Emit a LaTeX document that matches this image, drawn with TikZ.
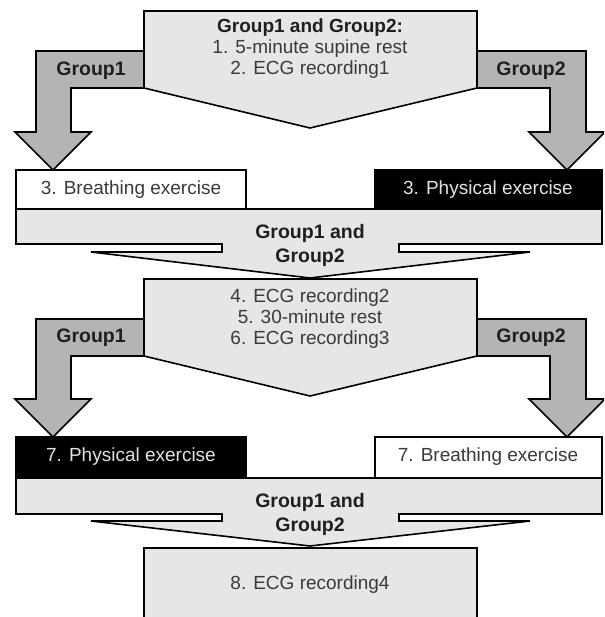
\documentclass[tikz,border=0pt]{standalone}
\usepackage{fontspec}
\setmainfont{Liberation Sans}
\definecolor{lgray}{HTML}{E6E6E6}
\definecolor{agray}{HTML}{B4B4B4}
\definecolor{tgray}{HTML}{3A3A3A}
\definecolor{wtext}{HTML}{E2E2E2}
\begin{document}
\begin{tikzpicture}[x=1pt,y=-1pt,line join=miter,
  shp/.style={draw=black,line width=1.6pt},
  txt/.style={font=\fontsize{19}{21}\selectfont,text=tgray,align=center,inner sep=0pt},
  btxt/.style={font=\fontsize{19.5}{24}\selectfont\bfseries,text=black!88,align=center,inner sep=0pt}]
\clip (0,0) rectangle (604,617);
\fill[white] (0,0) rectangle (604,617);
% ---- section 1 ----
\draw[shp,fill=agray] (144,51) -- (36,51) -- (36,132) -- (15,132) -- (53,170) -- (91,132) -- (71,132) -- (71,88) -- (144,88);
\draw[shp,fill=agray] (477,51) -- (586,51) -- (586,132) -- (605,132) -- (567,170) -- (529,132) -- (550,132) -- (550,88) -- (477,88);
\draw[shp,fill=lgray] (144,11) -- (477,11) -- (477,88) -- (310,128) -- (144,88) -- cycle;
\draw[shp,fill=white] (16,170) rectangle (246,209);
\draw[shp,fill=black] (375,170) rectangle (602,209);
\draw[shp,fill=lgray] (16,209) -- (602,209) -- (602,244) -- (399,244) -- (399,252) -- (530,252) -- (310,278) -- (91,252) -- (222,252) -- (222,244) -- (16,244) -- cycle;
% ---- section 2 ----
\draw[shp,fill=agray] (144,319) -- (36,319) -- (36,399) -- (15,399) -- (53,437) -- (91,399) -- (71,399) -- (71,356) -- (144,356);
\draw[shp,fill=agray] (477,319) -- (586,319) -- (586,399) -- (605,399) -- (567,437) -- (529,399) -- (550,399) -- (550,356) -- (477,356);
\draw[shp,fill=lgray] (144,279) -- (477,279) -- (477,356) -- (310,396) -- (144,356) -- cycle;
\draw[shp,fill=black] (16,437) rectangle (246,478);
\draw[shp,fill=white] (375,437) rectangle (602,478);
\draw[shp,fill=lgray] (16,478) -- (602,478) -- (602,514) -- (399,514) -- (399,521) -- (530,521) -- (310,546) -- (91,521) -- (222,521) -- (222,514) -- (16,514) -- cycle;
% ---- final box ----
\draw[shp,fill=lgray] (144,640) -- (144,548) -- (477,548) -- (477,640);
% ---- texts ----
\node[txt] (t1) at (310,49) {{\bfseries\color{black!88}Group1 and Group2:}\\1. 5-minute supine rest\\2. ECG recording1};
\node[btxt] (g1a) at (91,71) {Group1};
\node[btxt] (g2a) at (531,71) {Group2};
\node[txt] (b3) at (131,190) {3. Breathing exercise};
\node[txt,text=wtext] (p3) at (488,190) {3. Physical exercise};
\node[btxt] (m1) at (310,245) {Group1 and\\Group2};
\node[txt] (t2) at (310,319) {4. ECG recording2\\5. 30-minute rest\\6. ECG recording3};
\node[btxt] (g1b) at (91,338) {Group1};
\node[btxt] (g2b) at (531,338) {Group2};
\node[txt,text=wtext] (p7) at (131,457) {7. Physical exercise};
\node[txt] (b7) at (488,457) {7. Breathing exercise};
\node[btxt] (m2) at (310,514) {Group1 and\\Group2};
\node[txt] (t8) at (310,585) {8. ECG recording4};
\end{tikzpicture}
\end{document}
